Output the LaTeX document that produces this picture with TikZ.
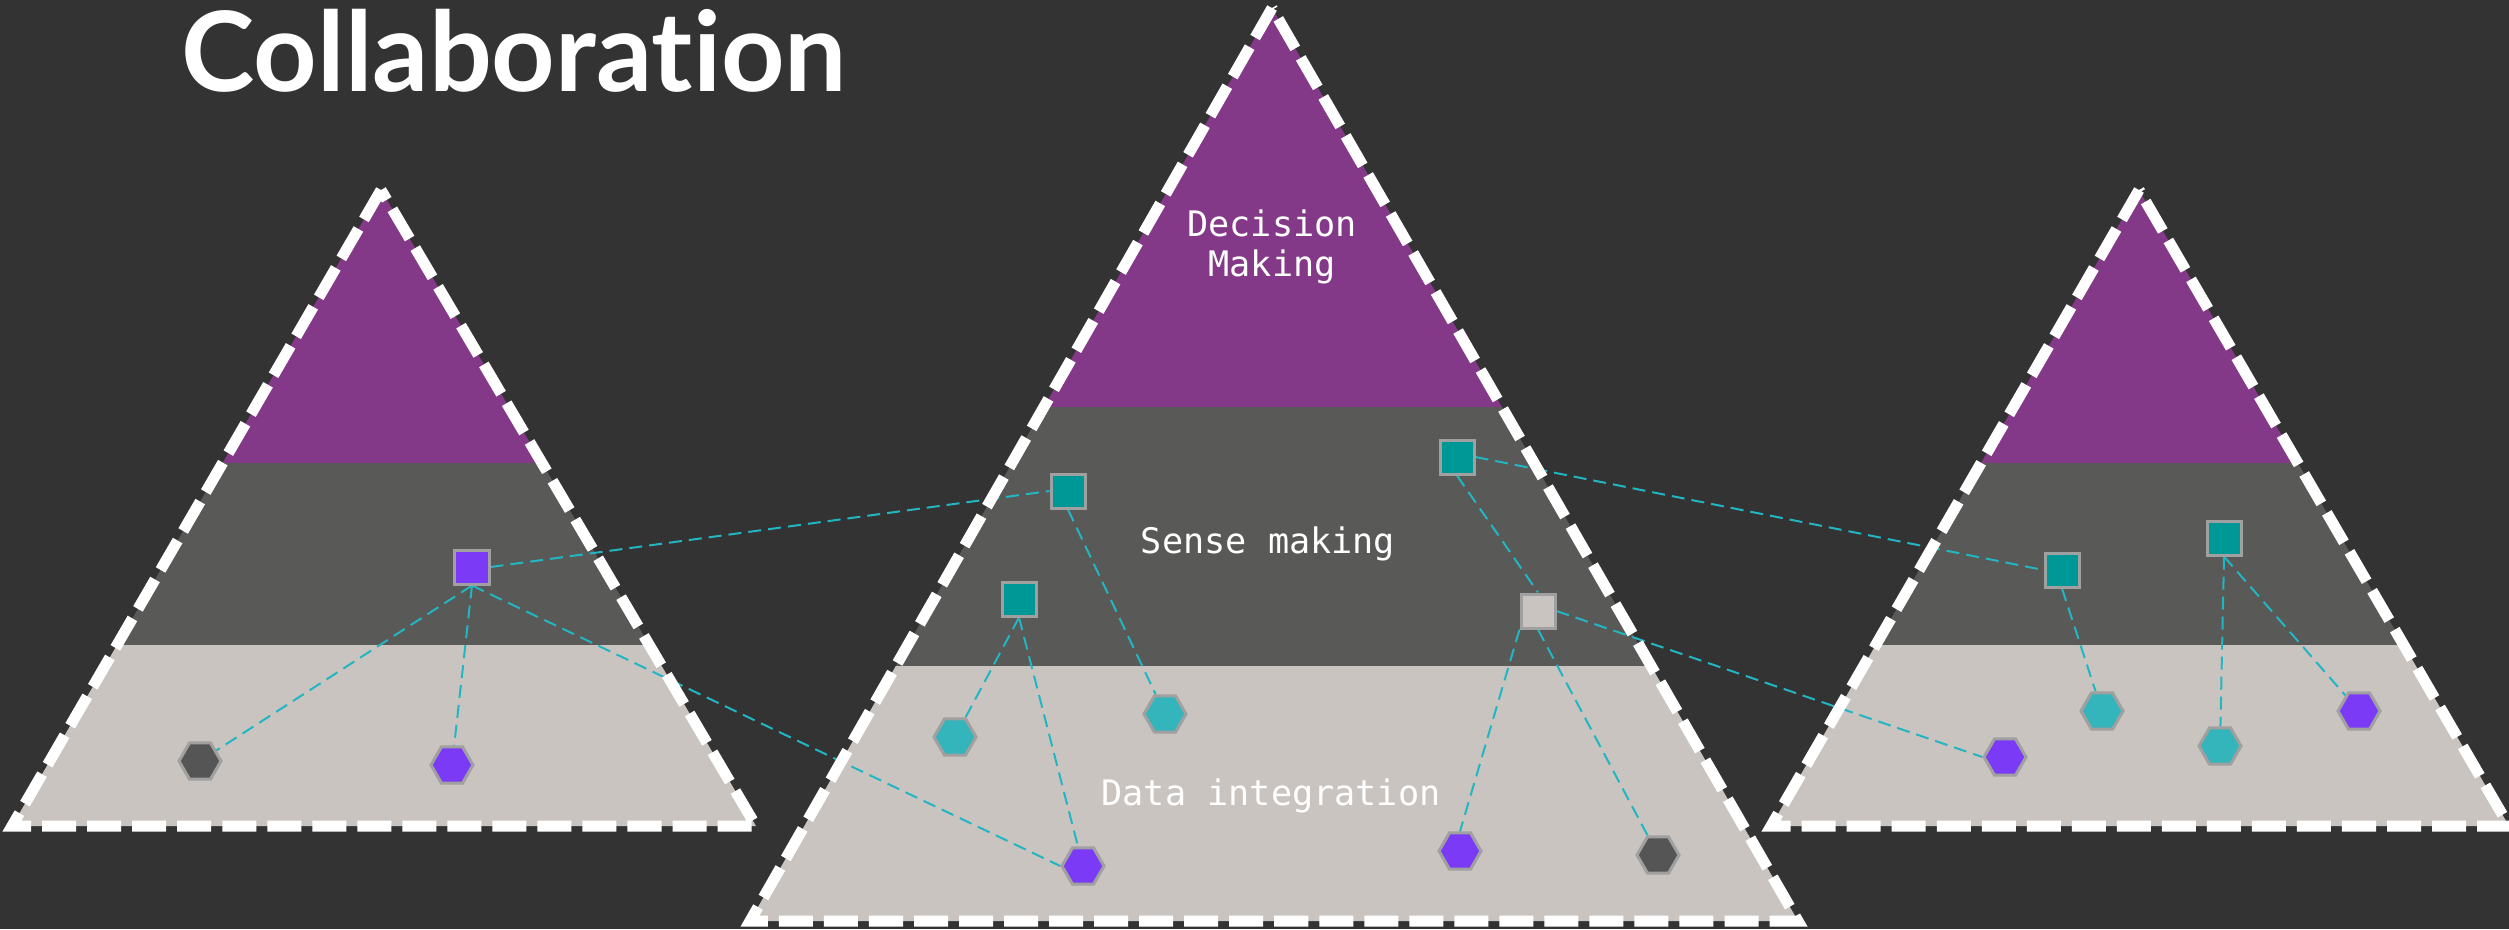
\documentclass[tikz,border=0pt]{standalone}
\usepackage{fontspec}
\setmainfont{DejaVu Sans}
\setmonofont{DejaVu Sans Mono}
\newfontfamily\titlefont[Ligatures={NoCommon}]{Lato}
\usetikzlibrary{shapes.geometric, backgrounds}
\definecolor{bgdark}{HTML}{333333}
\definecolor{layertop}{HTML}{843888}
\definecolor{layermid}{HTML}{595957}
\definecolor{layerlow}{HTML}{C9C4C0}
\definecolor{tealsq}{HTML}{009797}
\definecolor{cyanhex}{HTML}{33B5BB}
\definecolor{hexviolet}{HTML}{7B3AF5}
\definecolor{darkhex}{HTML}{555555}
\definecolor{nodeedge}{HTML}{A0A0A0}
\definecolor{linkcyan}{HTML}{22B5C2}
\tikzset{
    sqnode/.style={rectangle, draw=nodeedge, line width=0.3mm, minimum size=3.4mm, inner sep=0pt},
    hexnode/.style={regular polygon, regular polygon sides=6, draw=nodeedge, line width=0.3mm,
                    minimum size=4.2mm, inner sep=0pt},
    link/.style={linkcyan, line width=0.2mm, dash pattern=on 1.3mm off 0.7mm},
    pyramid/.style={white, line width=1.1mm, dash pattern=on 3.4mm off 1.1mm},
    layerlabel/.style={font=\ttfamily\fontsize{10}{11.4}\selectfont, text=white, align=center, inner sep=0pt},
}

\begin{document}
\begin{tikzpicture}[x=0.01cm, y=-0.01cm]
            \useasboundingbox (0,0) rectangle (2509,929);
            % pyramid corners
            \coordinate (ltip) at (381,190);
            \coordinate (lleft) at (12,826);
            \coordinate (lright) at (756,826);
            \coordinate (mtip) at (1272,8);
            \coordinate (mleft) at (750,921);
            \coordinate (mright) at (1798,921);
            \coordinate (rtip) at (2139,190);
            \coordinate (rleft) at (1771,826);
            \coordinate (rright) at (2509,826);

            \begin{scope}[on background layer]
                \fill[bgdark] (0,0) rectangle (2509,929);
                \begin{scope}
                    \clip (ltip) -- (lleft) -- (lright) -- cycle;
                    \fill[layertop] (0,150) rectangle (800,463);
                    \fill[layermid] (0,463) rectangle (800,645);
                    \fill[layerlow] (0,645) rectangle (800,840);
                \end{scope}
                \begin{scope}
                    \clip (mtip) -- (mleft) -- (mright) -- cycle;
                    \fill[layertop] (700,0) rectangle (1850,407);
                    \fill[layermid] (700,407) rectangle (1850,666);
                    \fill[layerlow] (700,666) rectangle (1850,929);
                \end{scope}
                \begin{scope}
                    \clip (rtip) -- (rleft) -- (rright) -- cycle;
                    \fill[layertop] (1750,150) rectangle (2560,463);
                    \fill[layermid] (1750,463) rectangle (2560,645);
                    \fill[layerlow] (1750,645) rectangle (2560,840);
                \end{scope}
            \end{scope}

            \node[font=\titlefont\bfseries\fontsize{31.5}{36}\selectfont, text=white, anchor=base west, inner sep=0pt] (title) at (181,91) {Collaboration};

            \node[layerlabel] (decision) at (1272,247) {Decision\\Making};
            \node[layerlabel, anchor=base] (sense) at (1268,553) {Sense making};
            \node[layerlabel, anchor=base] (data) at (1271,805) {Data integration};

            % left pyramid
            \node[sqnode, fill=hexviolet] (lsq) at (472,567) {};
            \node[hexnode, fill=darkhex] (lhexa) at (200,761) {};
            \node[hexnode, fill=hexviolet] (lhexb) at (452,765) {};
            % middle pyramid
            \node[sqnode, fill=tealsq] (msqa) at (1068,491) {};
            \node[sqnode, fill=tealsq] (msqb) at (1019,599) {};
            \node[sqnode, fill=tealsq] (msqc) at (1457,457) {};
            \node[sqnode, fill=layerlow] (msqd) at (1538,611) {};
            \node[hexnode, fill=cyanhex] (mhexe) at (955,737) {};
            \node[hexnode, fill=cyanhex] (mhexf) at (1165,714) {};
            \node[hexnode, fill=hexviolet] (mhexg) at (1083,866) {};
            \node[hexnode, fill=hexviolet] (mhexh) at (1460,851) {};
            \node[hexnode, fill=darkhex] (mhexi) at (1658,855) {};
            % right pyramid
            \node[sqnode, fill=tealsq] (rsqa) at (2062,570) {};
            \node[sqnode, fill=tealsq] (rsqb) at (2224,538) {};
            \node[hexnode, fill=cyanhex] (rhexl) at (2102,711) {};
            \node[hexnode, fill=hexviolet] (rhexm) at (2005,757) {};
            \node[hexnode, fill=cyanhex] (rhexn) at (2220,746) {};
            \node[hexnode, fill=hexviolet] (rhexo) at (2359,711) {};

            \begin{scope}[on background layer]
                \draw[link] (lsq.south) -- (lhexa);
                \draw[link] (lsq.south) -- (lhexb);
                \draw[link] (lsq.east) -- (msqa.west);
                \draw[link] (lsq.south) -- (mhexg.west);
                \draw[link] (msqa.south) -- (mhexf);
                \draw[link] (msqb.south) -- (mhexe);
                \draw[link] (msqb.south) -- (mhexg);
                \draw[link] (msqc.south) -- (msqd.north);
                \draw[link] (msqc.east) -- (rsqa.west);
                \draw[link] (msqd.south west) -- (mhexh.north);
                \draw[link] (msqd.south) -- (mhexi);
                \draw[link] (msqd.east) -- (rhexm.west);
                \draw[link] (rsqa.south) -- (rhexl);
                \draw[link] (rsqb.south) -- (rhexn);
                \draw[link] (rsqb.south) -- (rhexo);
            \end{scope}

            \draw[pyramid] (ltip) -- (lleft) -- (lright) -- cycle;
            \draw[pyramid] (mtip) -- (mleft) -- (mright) -- cycle;
            \draw[pyramid] (rtip) -- (rleft) -- (rright) -- cycle;
\end{tikzpicture}
\end{document}
